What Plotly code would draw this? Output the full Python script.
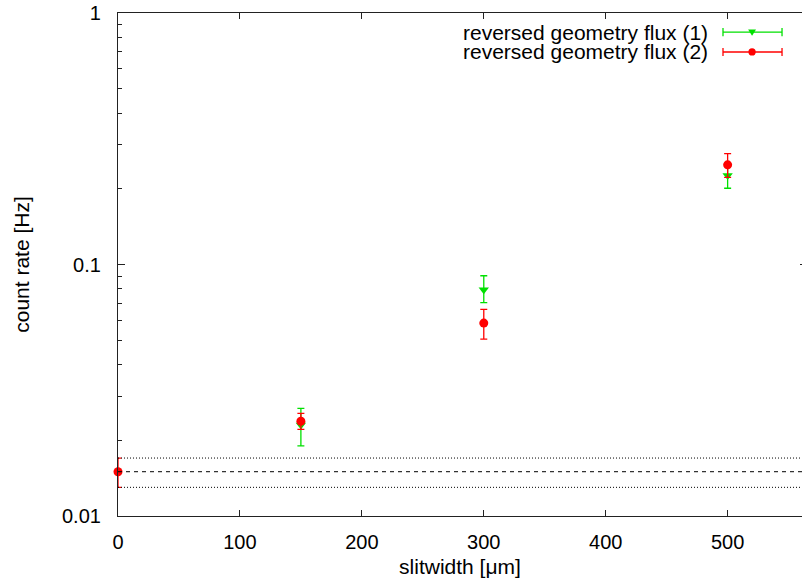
import plotly.graph_objects as go

# ---- data ----
slit1 = [150, 300, 500]
rate1 = [0.0230, 0.0794, 0.226]
err1_plus = [0.0038, 0.0108, 0.025]
err1_minus = [0.0040, 0.0089, 0.025]

slit2 = [0, 150, 300, 500]
rate2 = [0.015, 0.0238, 0.0585, 0.249]
err2_plus = [0.002, 0.0018, 0.0078, 0.027]
err2_minus = [0.002, 0.0017, 0.0080, 0.027]

bg_level = 0.015
bg_band = [0.013, 0.017]

label1 = "reversed geometry flux (1)"
label2 = "reversed geometry flux (2)"

xticks = [0, 100, 200, 300, 400, 500]
yticks = [0.01, 0.1, 1]
yticklabels = ["0.01", "0.1", "1"]
yminor = [m * d for d in (0.01, 0.1) for m in range(2, 10)]

GREEN = "#00e000"
RED = "#ff0000"
FONT = "Liberation Sans, Arial, sans-serif"

fig = go.Figure()

fig.add_trace(go.Scatter(
    x=slit1, y=rate1, mode="markers", name=label1, cliponaxis=False,
    marker=dict(symbol="triangle-down", size=9, color=GREEN),
    error_y=dict(type="data", array=err1_plus, arrayminus=err1_minus,
                 color=GREEN, thickness=1.3, width=3.5),
))
fig.add_trace(go.Scatter(
    x=slit2, y=rate2, mode="markers", name=label2, cliponaxis=False,
    marker=dict(symbol="circle", size=9, color=RED),
    error_y=dict(type="data", array=err2_plus, arrayminus=err2_minus,
                 color=RED, thickness=1.3, width=3.5),
))

# background level lines
fig.add_shape(type="line", xref="paper", yref="y", x0=0, x1=1,
              y0=bg_level, y1=bg_level, line=dict(color="black", width=1, dash="4px,4px"))
for b in bg_band:
    fig.add_shape(type="line", xref="paper", yref="y", x0=0, x1=1,
                  y0=b, y1=b, line=dict(color="black", width=1, dash="1px,2px"))

# gnuplot-style legend (text right-aligned, sample on the right)
leg_rows = [(0.962, label1, GREEN, "tri"), (0.9225, label2, RED, "circ")]
lx0, lx1, lxm = 0.8845, 0.9708, 0.927
for yy, txt, col, sym in leg_rows:
    fig.add_annotation(x=0.8655, y=yy, xref="paper", yref="paper", text=txt,
                       showarrow=False, xanchor="right", yanchor="middle",
                       font=dict(family=FONT, size=21, color="black"))
    fig.add_shape(type="line", xref="paper", yref="paper", x0=lx0, x1=lx1, y0=yy, y1=yy,
                  line=dict(color=col, width=1.3))
    for cx in (lx0, lx1):
        fig.add_shape(type="line", xref="paper", yref="paper", x0=cx, x1=cx,
                      y0=yy - 0.008, y1=yy + 0.008, line=dict(color=col, width=1.3))
    if sym == "circ":
        fig.add_shape(type="circle", xref="paper", yref="paper",
                      x0=lxm - 0.0053, x1=lxm + 0.0053, y0=yy - 0.0072, y1=yy + 0.0072,
                      fillcolor=col, line=dict(color=col, width=0))
    else:
        fig.add_shape(type="path", xref="paper", yref="paper",
                      path=f"M {lxm-0.0058} {yy+0.005} L {lxm+0.0058} {yy+0.005} L {lxm} {yy-0.007} Z",
                      fillcolor=col, line=dict(color=col, width=0))

fig.update_layout(
    width=802, height=586,
    margin=dict(l=118, r=0, t=13, b=70),
    paper_bgcolor="white", plot_bgcolor="white",
    showlegend=False,
    font=dict(family=FONT, size=20, color="black"),
)
fig.update_xaxes(
    range=[0, 561], tickvals=xticks, ticks="inside", ticklen=6, tickcolor="#222",
    showline=True, linecolor="#222", linewidth=1.2, mirror="ticks", showgrid=False,
    zeroline=False, ticklabelstandoff=8,
    title=dict(text="slitwidth [μm]", standoff=7, font=dict(size=21)),
)
fig.update_yaxes(
    type="log", range=[-2, 0], tickvals=yticks, ticktext=yticklabels,
    ticks="inside", ticklen=7, tickcolor="#222",
    minor=dict(tickvals=yminor, ticks="inside", ticklen=4, tickcolor="#222"),
    showline=True, linecolor="#222", linewidth=1.2, mirror=False, showgrid=False,
    zeroline=False, ticklabelstandoff=12,
    title=dict(text="count rate [Hz]", standoff=26, font=dict(size=21)),
)
# right-hand mirrored major tick (axis line itself lies just outside the view)
fig.update_layout(yaxis2=dict(
    type="log", range=[-2, 0], overlaying="y", side="right",
    tickvals=[0.1], ticks="inside", ticklen=2, tickcolor="#222",
    showticklabels=False, showline=False, showgrid=False, zeroline=False,
))
fig.add_trace(go.Scatter(x=[], y=[], yaxis="y2", showlegend=False, hoverinfo="skip"))

fig.write_html("out.html")
